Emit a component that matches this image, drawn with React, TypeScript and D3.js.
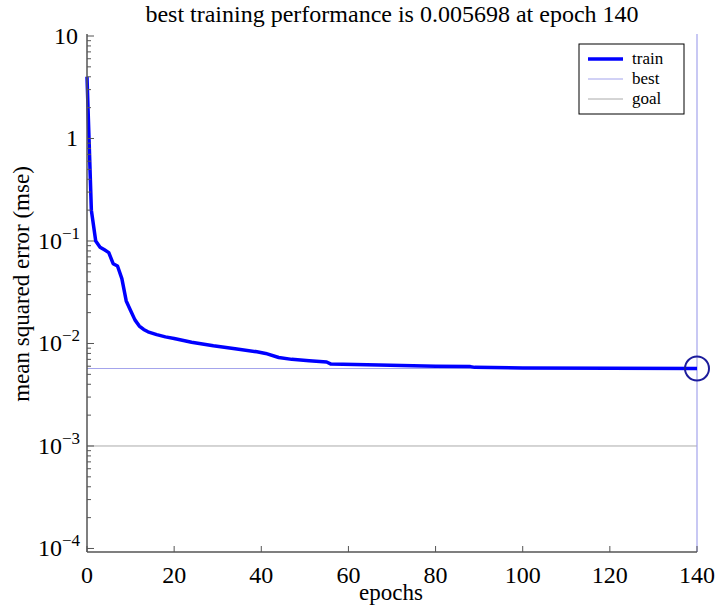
import React from "react";
import * as d3 from "d3";

// training record
const epochs = [0, 1, 2, 3, 4, 5, 6, 7, 8, 9, 10, 11, 12, 13, 14, 16, 18, 20, 24, 29, 34, 39, 41, 44, 47, 51, 55, 56, 67, 80, 88, 89, 100, 120, 140];
const trainPerf = [4.0, 0.2, 0.1, 0.087, 0.082, 0.077, 0.06, 0.057, 0.043, 0.026, 0.021, 0.017, 0.0148, 0.0137, 0.013, 0.0122, 0.0116, 0.0112, 0.0103, 0.0095, 0.0089, 0.0083, 0.008, 0.0073, 0.007, 0.0068, 0.0066, 0.0063, 0.00616, 0.006, 0.00595, 0.00585, 0.00578, 0.00572, 0.005698];
const bestEpoch = 140;
const bestPerf = 0.005698;
const goal = 0.001;
const xTicks = [0, 20, 40, 60, 80, 100, 120, 140];
const yDecades = [-4, -3, -2, -1, 0, 1];
const legendItems = ["train", "best", "goal"];

const W = 716;
const H = 607;
const FONT = '"Liberation Serif", "Times New Roman", "DejaVu Serif", serif';
const axisCol = "#555";
const bestCol = "#a3a3ec";
const goalCol = "#aaaaaa";
const txt = { fontFamily: FONT };

const App = () => {
  const x = d3.scaleLinear().domain([0, 140]).range([87, 697]);
  const y = d3.scaleLog().domain([9.24e-5, 10.46]).range([552, 34]);

  const line = d3
    .line<number>()
    .x((d, i) => x(epochs[i]))
    .y((d) => y(d));

  const minor: number[] = [];
  yDecades.forEach((p) => {
    for (let k = 2; k <= 9; k++) {
      const v = k * Math.pow(10, p);
      if (v < y.domain()[1]) minor.push(v);
    }
  });

  const [x0, x1] = x.range();
  const [yb, yt] = y.range();

  return (
    <svg width={W} height={H} style={{ position: "absolute", left: 0, top: 0, background: "#fff" }}>
      {/* title */}
      <text x={392} y={22} fontSize={24} textAnchor="middle" style={txt}>
        best training performance is {bestPerf} at epoch {bestEpoch}
      </text>

      {/* goal + best reference lines */}
      <line x1={x0} x2={x1} y1={y(goal)} y2={y(goal)} stroke={goalCol} strokeWidth={1} />
      <line x1={x0} x2={x1} y1={y(bestPerf)} y2={y(bestPerf)} stroke={bestCol} strokeWidth={1} />
      <line x1={x(bestEpoch)} x2={x(bestEpoch)} y1={yt} y2={yb} stroke={bestCol} strokeWidth={1.2} />

      {/* train curve */}
      <path d={line(trainPerf) || ""} fill="none" stroke="#0000ff" strokeWidth={3.5} strokeLinejoin="round" />
      <circle cx={x(bestEpoch)} cy={y(bestPerf)} r={12} fill="none" stroke="#1c1c9c" strokeWidth={2} />

      {/* y axis */}
      <line x1={x0} x2={x0} y1={yt} y2={yb} stroke={axisCol} strokeWidth={1.5} />
      {minor.map((v) => (
        <line key={"m" + v} x1={x0} x2={x0 + 4} y1={y(v)} y2={y(v)} stroke={axisCol} strokeWidth={1} />
      ))}
      {yDecades.map((p) => {
        const v = Math.pow(10, p);
        const ty = y(v);
        return (
          <g key={"y" + p}>
            <line x1={x0} x2={x0 + 7} y1={ty} y2={ty} stroke={axisCol} strokeWidth={1} />
            {p === 1 || p === 0 ? (
              <text x={x0 - 9} y={ty + 8} fontSize={24} textAnchor="end" style={txt}>
                {p === 1 ? "10" : "1"}
              </text>
            ) : (
              <text x={x0 - 7} y={ty + 8} fontSize={24} textAnchor="end" style={txt}>
                10
                <tspan fontSize={17} dy={-10}>
                  {"\u2212" + -p}
                </tspan>
              </text>
            )}
          </g>
        );
      })}

      {/* x axis */}
      <line x1={x0} x2={x1} y1={yb} y2={yb} stroke={axisCol} strokeWidth={1.5} />
      {xTicks.map((t) => (
        <g key={"x" + t}>
          <line x1={x(t)} x2={x(t)} y1={yb} y2={yb - 6} stroke={axisCol} strokeWidth={1} />
          <text x={x(t)} y={yb + 31} fontSize={24} textAnchor="middle" style={txt}>
            {t}
          </text>
        </g>
      ))}

      <text x={391} y={600} fontSize={23} textAnchor="middle" style={txt}>
        epochs
      </text>
      <text transform="translate(29,284) rotate(-90)" fontSize={23} textAnchor="middle" style={txt}>
        mean squared error (mse)
      </text>

      {/* legend */}
      <g transform="translate(579,44)">
        <rect x={0} y={0} width={105} height={70} fill="#fff" stroke="#000" strokeWidth={1} />
        {legendItems.map((name, i) => (
          <g key={name} transform={`translate(0,${15 + i * 20})`}>
            <line
              x1={9}
              x2={44}
              y1={0}
              y2={0}
              stroke={i === 0 ? "#0000ff" : i === 1 ? bestCol : goalCol}
              strokeWidth={i === 0 ? 3.5 : 1}
            />
            <text x={53} y={5} fontSize={17} style={txt}>
              {name}
            </text>
          </g>
        ))}
      </g>
    </svg>
  );
};

export default App;
